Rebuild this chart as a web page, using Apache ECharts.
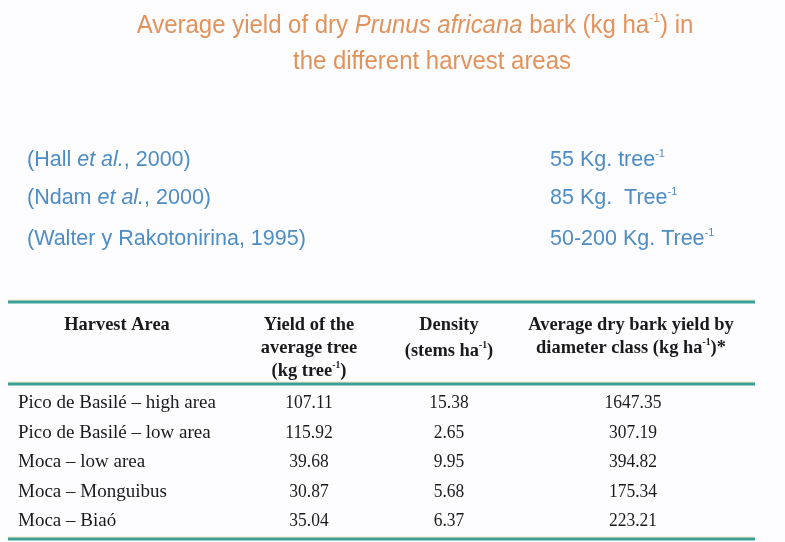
<!DOCTYPE html>
<html>
<head>
<meta charset="utf-8">
<style>html,body{margin:0;padding:0;background:#fdfdff;}#c{width:785px;height:542px;}</style>
<script src="https://cdn.jsdelivr.net/npm/echarts@6/dist/echarts.min.js"></script>
</head>
<body>
<div id="c"></div>
<script>
// ---- data ----
var titleLine1 = '{n|Average yield of dry }{i|Prunus africana}{n| bark (kg ha}{s|-1}{n|) in}';
var titleLine2 = 'the different harvest areas';
var refSources = [
  '{n|(Hall }{i|et al.}{n|, 2000)}',
  '{n|(Ndam }{i|et al.}{n|, 2000)}',
  '{n|(Walter y Rakotonirina, 1995)}'
];
var refValues = [
  '{n|55 Kg. tree}{s|-1}',
  '{n|85 Kg.  Tree}{s|-1}',
  '{n|50-200 Kg. Tree}{s|-1}'
];
var headers = [
  ['{h|Harvest Area}'],
  ['{h|Yield of the}', '{h|average tree}', '{h|(kg tree}{hs|-1}{h|)}'],
  ['{h|Density}', '{h|(stems ha}{hs|-1}{h|)}'],
  ['{h|Average dry bark yield by}', '{h|diameter class (kg ha}{hs|-1}{h|)*}']
];
var harvestAreas = ['Pico de Basilé – high area', 'Pico de Basilé – low area', 'Moca – low area', 'Moca – Monguibus', 'Moca – Biaó'];
var yieldTree = ['107.11', '115.92', '39.68', '30.87', '35.04'];
var density = ['15.38', '2.65', '9.95', '5.68', '6.37'];
var avgYield = ['1647.35', '307.19', '394.82', '175.34', '223.21'];

// ---- layout ----
var chart = echarts.init(document.getElementById('c'));
var els = [];
var orange = '#e2935c', blue = '#4d8cc4', teal = '#3a9f95', ink = '#1a1a1a';
var sans = '"Liberation Sans", Arial, sans-serif';
var serif = '"Liberation Serif", "Times New Roman", serif';

function txt(x, y, text, align, rich, extra, sx) {
  var s = {x: 0, y: 0, text: text, align: align || 'left', verticalAlign: 'middle', rich: rich};
  if (extra) for (var k in extra) s[k] = extra[k];
  els.push({type: 'text', x: x, y: y, scaleX: sx || 1, style: s, z: 10});
}
var titleRich = {
  n: {fontFamily: sans, fontSize: 25.5, fill: orange, lineHeight: 30, verticalAlign: 'bottom'},
  i: {fontFamily: sans, fontSize: 25.5, fill: orange, fontStyle: 'italic', lineHeight: 30, verticalAlign: 'bottom'},
  s: {fontFamily: sans, fontSize: 13, fill: orange, lineHeight: 30, verticalAlign: 'top', padding: [3, 0, 0, 0]}
};
txt(415, 24, titleLine1, 'center', titleRich, null, 0.94);
txt(432, 60, '{n|' + titleLine2 + '}', 'center', titleRich, null, 0.94);

var refRich = {
  n: {fontFamily: sans, fontSize: 21.5, fill: blue, lineHeight: 26, verticalAlign: 'bottom'},
  i: {fontFamily: sans, fontSize: 21.5, fill: blue, fontStyle: 'italic', lineHeight: 26, verticalAlign: 'bottom'},
  s: {fontFamily: sans, fontSize: 11, fill: blue, lineHeight: 26, verticalAlign: 'top', padding: [3, 0, 0, 0]}
};
var refY = [158, 196, 237];
refSources.forEach(function (t, i) { txt(27, refY[i], t, 'left', refRich, null, 1); });
refValues.forEach(function (t, i) { txt(550, refY[i], t, 'left', refRich, null, 1); });

// rules
function rule(y) {
  els.push({type: 'line', shape: {x1: 8, y1: y - 2, x2: 755, y2: y - 2}, style: {stroke: '#f3e6b8', lineWidth: 1}});
  els.push({type: 'line', shape: {x1: 8, y1: y, x2: 755, y2: y}, style: {stroke: teal, lineWidth: 3}});
}
rule(302); rule(384); rule(539);

var headRich = {
  h: {fontFamily: serif, fontSize: 19, fontWeight: 'bold', fill: ink, lineHeight: 22, verticalAlign: 'bottom'},
  hs: {fontFamily: serif, fontSize: 10, fontWeight: 'bold', fill: ink, lineHeight: 22, verticalAlign: 'top', padding: [1, 0, 0, 0]}
};
var colX = [117, 309, 449, 631];
var headY = [[324], [324, 347, 370], [324, 350], [324, 347]];
headers.forEach(function (lines, c) {
  lines.forEach(function (l, j) { txt(colX[c], headY[c][j], l, 'center', headRich, null, 0.97); });
});

var rowY = [403, 433, 462, 492, 521];
var cellStyle = {font: '19px ' + serif, fill: ink};
harvestAreas.forEach(function (t, r) { txt(18, rowY[r], t, 'left', null, cellStyle, 1); });
var valX = [309, 449, 633];
[yieldTree, density, avgYield].forEach(function (col, c) {
  col.forEach(function (t, r) { txt(valX[c], rowY[r], t, 'center', null, cellStyle, 0.92); });
});

chart.setOption({backgroundColor: '#fdfdff', graphic: {elements: els}});
</script>
</body>
</html>
